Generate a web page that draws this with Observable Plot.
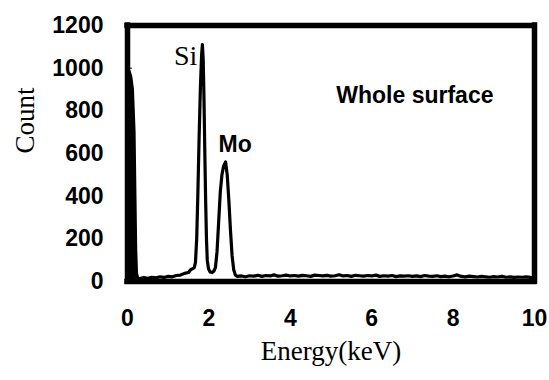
<!DOCTYPE html>
<html>
<head>
<meta charset="utf-8">
<script src="https://cdn.jsdelivr.net/npm/d3@7"></script>
<script src="https://cdn.jsdelivr.net/npm/@observablehq/plot@0.6"></script>
<style>
  html, body { margin: 0; padding: 0; background: #fff; }
  #chart { width: 549px; height: 380px; }
</style>
</head>
<body>
<div id="chart"></div>
<script>
// Spectrum
const energy = [
  0.00, 0.04, 0.08, 0.12, 0.16, 0.18, 0.20, 0.22, 0.25,
  0.30, 0.40, 0.50, 0.60, 0.70, 0.80, 0.90, 1.00, 1.10, 1.20, 1.30, 1.40, 1.50,
  1.55, 1.60, 1.64, 1.67, 1.70, 1.73, 1.76, 1.79, 1.82, 1.84, 1.86, 1.88, 1.90,
  1.92, 1.94, 1.96, 1.99, 2.03, 2.08, 2.12, 2.16, 2.20, 2.24, 2.28, 2.32, 2.36,
  2.41, 2.45, 2.49, 2.53, 2.57, 2.61, 2.65,
  2.7, 2.8, 2.9, 3.0, 3.1, 3.2, 3.3, 3.4, 3.5, 3.6, 3.7, 3.8, 3.9,
  4.0, 4.1, 4.2, 4.3, 4.4, 4.5, 4.6, 4.7, 4.8, 4.9,
  5.0, 5.1, 5.2, 5.3, 5.4, 5.5, 5.6, 5.7, 5.8, 5.9,
  6.0, 6.1, 6.2, 6.3, 6.4, 6.5, 6.6, 6.7, 6.8, 6.9,
  7.0, 7.1, 7.2, 7.3, 7.4, 7.5, 7.6, 7.7, 7.8, 7.9,
  8.0, 8.1, 8.2, 8.3, 8.4, 8.5, 8.6, 8.7, 8.8, 8.9,
  9.0, 9.1, 9.2, 9.3, 9.4, 9.5, 9.6, 9.7, 9.8, 9.9, 10.0
];
const counts = [
  990, 985, 960, 900, 700, 420, 150, 40, 15,
  14, 18, 15, 20, 17, 22, 19, 24, 22, 28, 30, 38, 42,
  55, 60, 65, 90, 200, 420, 680, 900, 1060, 1110, 1040, 850, 600,
  380, 200, 100, 60, 45, 42, 48, 65, 140, 280, 420, 500, 540,
  560, 500, 380, 240, 120, 55, 30,
  24, 26, 22, 27, 25, 29, 24, 28, 26, 31, 25, 27, 30,
  26, 28, 25, 29, 27, 24, 30, 28, 26, 29,
  25, 27, 32, 26, 28, 24, 29, 27, 25, 28,
  26, 30, 24, 27, 25, 28, 23, 26, 25, 27,
  24, 26, 23, 28, 25, 24, 27, 23, 25, 22,
  26, 31, 24, 22, 25, 23, 21, 24, 22, 20,
  23, 21, 24, 20, 22, 19, 21, 20, 22, 19, 18
];
const peakLabels = ["Si", "Mo"];
const peakEnergies = [1.84, 2.41];
const xTicks = [0, 2, 4, 6, 8, 10];
const yTicks = [0, 200, 400, 600, 800, 1000, 1200];
const regionLabel = "Whole surface";
const xTitle = "Energy(keV)";
const yTitle = "Count";

const data = energy.map((e, i) => ({energy: e, count: counts[i]}));
const peaks = peakLabels.map((label, i) => {
  const d = data.find(p => p.energy === peakEnergies[i]);
  return {label, energy: d.energy, count: d.count};
});
const xDomain = [xTicks[0], xTicks[xTicks.length - 1]];
const yDomain = [yTicks[0], yTicks[yTicks.length - 1]];

const serif = "'Liberation Serif', 'Times New Roman', serif";
const sans = "'Liberation Sans', Arial, sans-serif";

const chart = Plot.plot({
  width: 549,
  height: 380,
  marginLeft: 127,
  marginRight: 15,
  marginTop: 25,
  marginBottom: 99,
  x: {domain: xDomain, label: null},
  y: {domain: yDomain, label: null},
  style: {fontFamily: sans, background: "white", color: "black"},
  marks: [
    Plot.areaY(data.filter(d => d.energy <= 0.22), {x: "energy", y: "count", fill: "black"}),
    Plot.line(data, {x: "energy", y: "count", stroke: "black", strokeWidth: 3.2}),
    Plot.ruleY(yTicks.slice(1, -1), {y: d => d, x1: 0, x2: 0.12, stroke: "black", strokeWidth: 1}),
    Plot.ruleY(yDomain, {stroke: "black", strokeWidth: 5.5, strokeLinecap: "square"}),
    Plot.ruleX(xDomain, {stroke: "black", strokeWidth: 5.5, strokeLinecap: "square"}),
    Plot.axisX(xTicks, {tickSize: 0, tickPadding: 28, fontSize: 23, fontWeight: "bold", label: null, tickFormat: d => String(d)}),
    Plot.axisY(yTicks, {tickSize: 0, tickPadding: 24, fontSize: 23, fontWeight: "bold", label: null, tickFormat: d => String(d)}),
    Plot.text(peaks.filter(p => p.label === "Si"), {
      x: "energy", y: "count", text: "label", textAnchor: "end",
      dx: -5, dy: 11, fontSize: 28, fontFamily: serif, fill: "black"
    }),
    Plot.text(peaks.filter(p => p.label === "Mo"), {
      x: "energy", y: "count", text: "label", textAnchor: "start",
      dx: -7, dy: -17, fontSize: 23, fontWeight: "bold", fontFamily: sans, fill: "black"
    }),
    Plot.text([regionLabel], {
      frameAnchor: "top-right", textAnchor: "end", dx: -41, dy: 61,
      fontSize: 23, fontWeight: "bold", fontFamily: sans, fill: "black"
    }),
    Plot.text([xTitle], {
      frameAnchor: "bottom", dy: 78, fontSize: 27, fontFamily: serif, fill: "black"
    }),
    Plot.text([yTitle], {
      frameAnchor: "left", dx: -102, rotate: -90, fontSize: 27, fontFamily: serif, fill: "black"
    })
  ]
});
document.getElementById("chart").appendChild(chart);
</script>
</body>
</html>
